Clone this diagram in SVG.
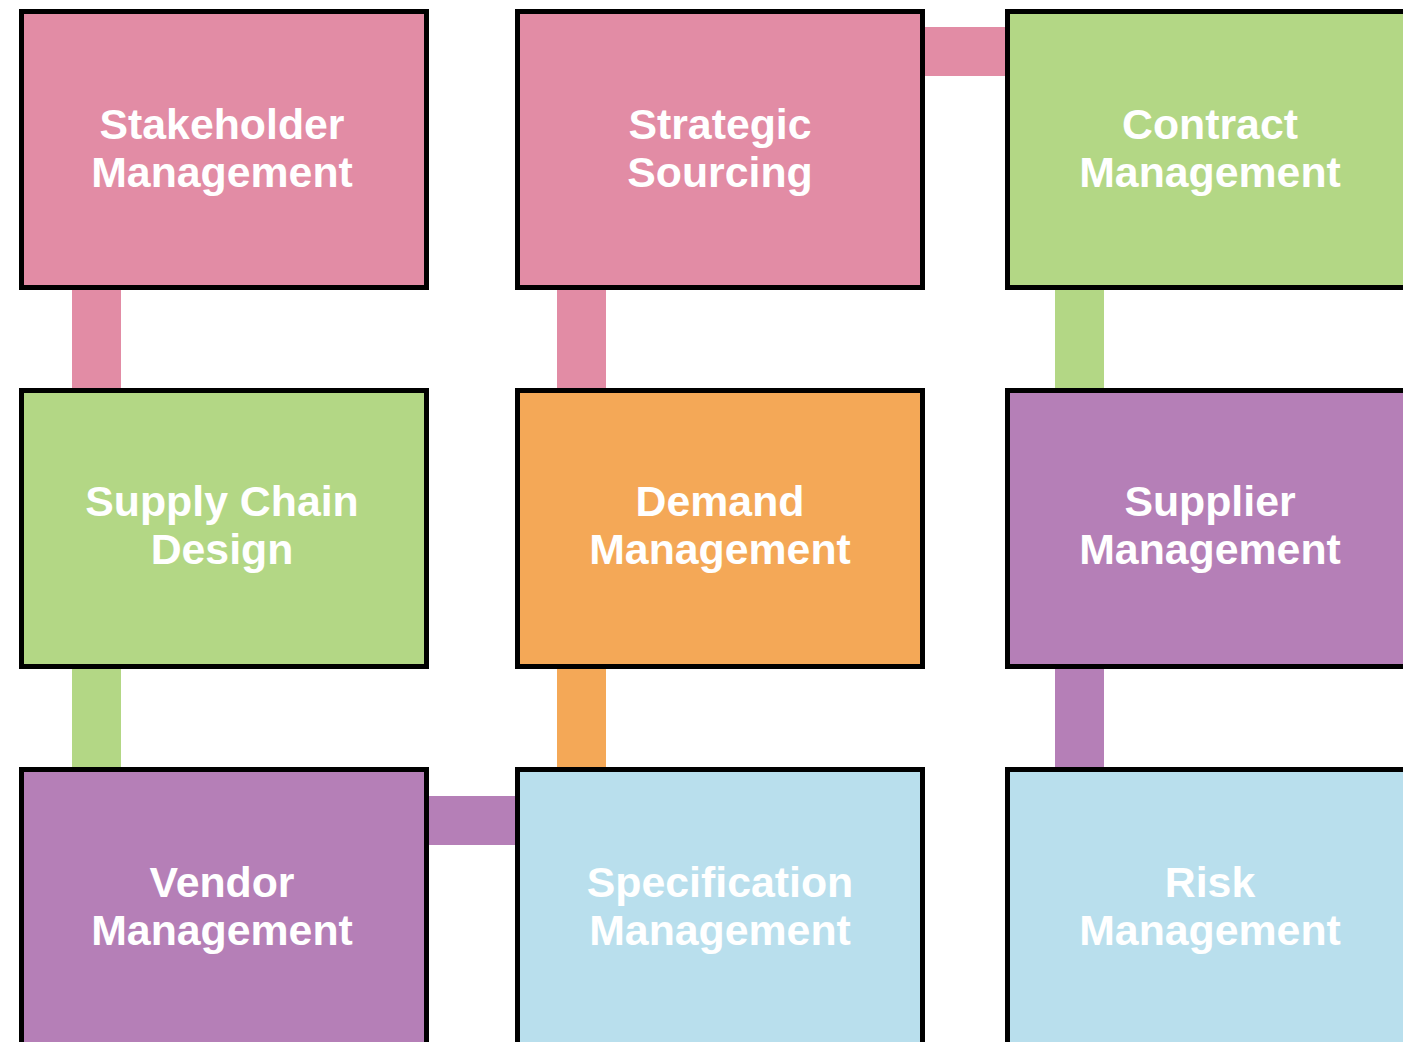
<svg xmlns="http://www.w3.org/2000/svg" width="1403" height="1042" viewBox="0 0 1403 1042">
  <style>
    .box { stroke: #000; stroke-width: 5; }
    .lbl { font-family: "Liberation Sans", Arial, Helvetica, sans-serif; font-weight: bold; font-size: 42.8px; fill: #fff; text-anchor: middle; }
    .pink { fill: #E28CA5; }
    .green { fill: #B3D785; }
    .orange { fill: #F4A857; }
    .purple { fill: #B57FB7; }
    .blue { fill: #B9DFED; }
  </style>
  <rect width="1403" height="1042" fill="#fff"/>

  <!-- connector bars -->
  <g id="connectors">
    <rect class="pink" x="72" y="288" width="49" height="102"/>
    <rect class="pink" x="557" y="288" width="49" height="102"/>
    <rect class="green" x="1055" y="288" width="49" height="102"/>
    <rect class="pink" x="923" y="27" width="84" height="49"/>
    <rect class="green" x="72" y="667" width="49" height="102"/>
    <rect class="orange" x="557" y="667" width="49" height="102"/>
    <rect class="purple" x="1055" y="667" width="49" height="102"/>
    <rect class="purple" x="427" y="796" width="90" height="49"/>
  </g>

  <!-- row 1 -->
  <g id="stakeholder-management">
    <rect class="box pink" x="21.5" y="11.5" width="405" height="276"/>
    <text class="lbl" x="222" y="139">Stakeholder</text>
    <text class="lbl" x="222" y="187">Management</text>
  </g>
  <g id="strategic-sourcing">
    <rect class="box pink" x="517.5" y="11.5" width="405" height="276"/>
    <text class="lbl" x="720" y="139">Strategic</text>
    <text class="lbl" x="720" y="187">Sourcing</text>
  </g>
  <g id="contract-management">
    <rect class="box green" x="1007.5" y="11.5" width="405" height="276"/>
    <text class="lbl" x="1210" y="139">Contract</text>
    <text class="lbl" x="1210" y="187">Management</text>
  </g>

  <!-- row 2 -->
  <g id="supply-chain-design">
    <rect class="box green" x="21.5" y="390.5" width="405" height="276"/>
    <text class="lbl" x="222" y="516">Supply Chain</text>
    <text class="lbl" x="222" y="564">Design</text>
  </g>
  <g id="demand-management">
    <rect class="box orange" x="517.5" y="390.5" width="405" height="276"/>
    <text class="lbl" x="720" y="516">Demand</text>
    <text class="lbl" x="720" y="564">Management</text>
  </g>
  <g id="supplier-management">
    <rect class="box purple" x="1007.5" y="390.5" width="405" height="276"/>
    <text class="lbl" x="1210" y="516">Supplier</text>
    <text class="lbl" x="1210" y="564">Management</text>
  </g>

  <!-- row 3 -->
  <g id="vendor-management">
    <rect class="box purple" x="21.5" y="769.5" width="405" height="276"/>
    <text class="lbl" x="222" y="897">Vendor</text>
    <text class="lbl" x="222" y="945">Management</text>
  </g>
  <g id="specification-management">
    <rect class="box blue" x="517.5" y="769.5" width="405" height="276"/>
    <text class="lbl" x="720" y="897">Specification</text>
    <text class="lbl" x="720" y="945">Management</text>
  </g>
  <g id="risk-management">
    <rect class="box blue" x="1007.5" y="769.5" width="405" height="276"/>
    <text class="lbl" x="1210" y="897">Risk</text>
    <text class="lbl" x="1210" y="945">Management</text>
  </g>
</svg>
